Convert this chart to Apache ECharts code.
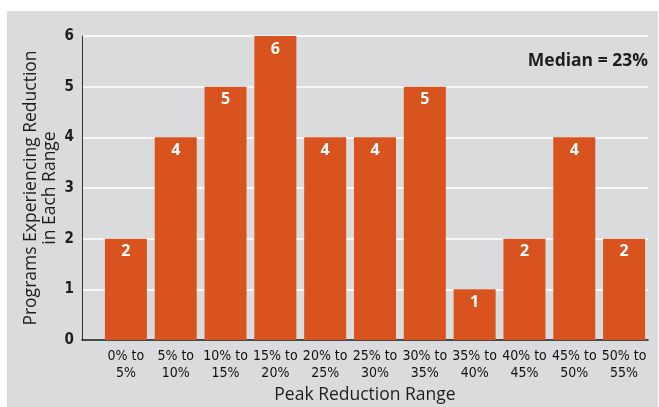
<!DOCTYPE html>
<html>
<head>
<meta charset="utf-8">
<script src="https://cdn.jsdelivr.net/npm/echarts@6/dist/echarts.min.js"></script>
<style>
  html, body { margin: 0; padding: 0; background: #ffffff; }
  #chart { width: 659px; height: 407px; }
</style>
</head>
<body>
<div id="chart"></div>
<script>
// Number of programs per peak-reduction range
const categories = ['0% to\n5%', '5% to\n10%', '10% to\n15%', '15% to\n20%', '20% to\n25%',
  '25% to\n30%', '30% to\n35%', '35% to\n40%', '40% to\n45%', '45% to\n50%', '50% to\n55%'];
const programCounts = [2, 4, 5, 6, 4, 4, 5, 1, 2, 4, 2];
const yTicks = [0, 1, 2, 3, 4, 5, 6];
const medianText = 'Median = 23%';

const BAR = '#D9531E';
const INK = '#1e1e1e';
const narrow = '"DejaVu Sans Condensed", sans-serif';
const plain = '"Open Sans", "Noto Sans", sans-serif';

const chart = echarts.init(document.getElementById('chart'), null, { renderer: 'canvas' });

chart.setOption({
  animation: false,
  backgroundColor: '#ffffff',
  graphic: [
    { type: 'rect', z: -10, shape: { x: 7, y: 11, width: 651, height: 396 }, style: { fill: '#DADBDC' } },
    { type: 'text', right: 11, top: 52, style: { text: medianText, fill: INK, font: 'bold 17.5px ' + plain, textAlign: 'right' } }
  ],
  grid: [
    // frame grid: y axis, gridlines and baseline
    { left: 82, right: 11, top: 36, bottom: 67, outerBoundsMode: 'none', containLabel: false },
    // bar grid: categories start slightly right of the y axis
    { left: 101, right: 10, top: 36, bottom: 67, outerBoundsMode: 'none', containLabel: false }
  ],
  xAxis: [
    {
      gridIndex: 0, type: 'value', min: 0, max: 1,
      axisLine: { show: true, onZero: false, lineStyle: { color: '#111', width: 1.5 } },
      axisTick: { show: false }, axisLabel: { show: false }, splitLine: { show: false },
      name: 'Peak Reduction Range', nameLocation: 'middle', nameGap: 46, nameMoveOverlap: false,
      nameTextStyle: { fontFamily: plain, fontSize: 17.5, color: INK }
    },
    {
      gridIndex: 1, type: 'category', data: categories,
      axisLine: { show: false }, axisTick: { show: false },
      axisLabel: { interval: 0, margin: 8, fontFamily: narrow, fontSize: 14, lineHeight: 17, color: '#111' }
    }
  ],
  yAxis: [
    {
      gridIndex: 0, type: 'value', min: yTicks[0], max: yTicks[yTicks.length - 1], interval: 1,
      axisLine: { show: true, lineStyle: { color: '#333', width: 1 } },
      axisTick: { show: false },
      axisLabel: { margin: 8, fontFamily: narrow, fontWeight: 'bold', fontSize: 15, color: INK },
      splitLine: { show: true, lineStyle: { color: '#ffffff', width: 1.5 } },
      name: 'Programs Experiencing Reduction\nin Each Range', nameLocation: 'middle', nameGap: 22,
      nameMoveOverlap: false,
      nameTextStyle: { fontFamily: plain, fontSize: 17.5, color: INK, lineHeight: 19 }
    },
    {
      gridIndex: 1, type: 'value', min: yTicks[0], max: yTicks[yTicks.length - 1], interval: 1,
      show: false
    }
  ],
  series: [{
    type: 'bar', xAxisIndex: 1, yAxisIndex: 1,
    data: programCounts, barWidth: 42,
    itemStyle: { color: BAR },
    label: {
      show: true, position: 'insideTop', distance: 5,
      color: '#ffffff', fontFamily: plain, fontWeight: 'bold', fontSize: 16
    }
  }]
});
</script>
</body>
</html>
